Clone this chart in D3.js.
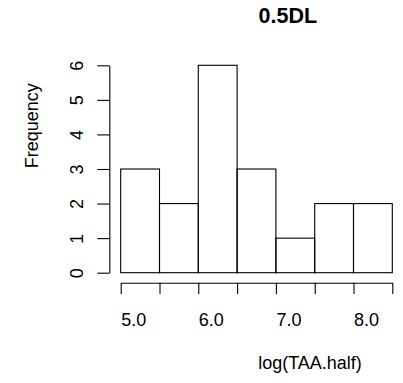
<!DOCTYPE html>
<html>
<head>
<meta charset="utf-8">
<script src="https://cdn.jsdelivr.net/npm/d3@7"></script>
<style>
body { margin: 0; background: #fff; }
svg text { font-family: "Liberation Sans", Arial, sans-serif; fill: #000; }
</style>
</head>
<body>
<div id="chart"></div>
<script>
// histogram data
var binEdges = [5.0, 5.5, 6.0, 6.5, 7.0, 7.5, 8.0, 8.5];
var counts = [3, 2, 6, 3, 1, 2, 2];
var yTicks = [0, 1, 2, 3, 4, 5, 6];
var xTicks = [5.0, 5.5, 6.0, 6.5, 7.0, 7.5, 8.0, 8.5];
var xLabels = ["5.0", "", "6.0", "", "7.0", "", "8.0", ""];

var width = 403, height = 383;
var lw = 1.1;

var svg = d3.select("#chart").append("svg")
  .attr("width", width)
  .attr("height", height);

var x = d3.scaleLinear().domain([5, 8.5]).range([120.7, 392.3]);
var y = d3.scaleLinear().domain([0, 6]).range([272.7, 65.3]);

var bins = counts.map(function(c, i) {
  return {x0: binEdges[i], x1: binEdges[i + 1], n: c};
});

svg.selectAll(".bar")
  .data(bins)
  .enter().append("rect")
  .attr("class", "bar")
  .attr("x", function(d) { return x(d.x0); })
  .attr("width", function(d) { return x(d.x1) - x(d.x0); })
  .attr("y", function(d) { return y(d.n); })
  .attr("height", function(d) { return y(0) - y(d.n); })
  .attr("fill", "none")
  .attr("stroke", "#000")
  .attr("stroke-width", lw);

// y axis
var yAxis = d3.axisLeft(y).tickValues(yTicks).tickSize(12).tickSizeOuter(0)
  .tickFormat(d3.format("d"));
var gy = svg.append("g")
  .attr("transform", "translate(109.3,0)")
  .call(yAxis);
gy.select(".domain").attr("stroke-width", lw);
gy.selectAll(".tick line").attr("stroke-width", lw);
gy.selectAll(".tick text")
  .attr("transform", "rotate(-90)")
  .attr("x", 0)
  .attr("y", -26)
  .attr("dy", 0)
  .attr("text-anchor", "middle")
  .style("font-size", "18px");

// x axis
var xAxis = d3.axisBottom(x).tickValues(xTicks).tickSize(11.3).tickSizeOuter(0)
  .tickFormat(function(d, i) { return xLabels[i]; });
var gx = svg.append("g")
  .attr("transform", "translate(0,282.7)")
  .call(xAxis);
gx.select(".domain").attr("stroke-width", lw);
gx.selectAll(".tick line").attr("stroke-width", lw);
gx.selectAll(".tick text")
  .attr("y", 43)
  .attr("dy", 0)
  .attr("text-anchor", "start")
  .style("font-size", "18px");

// title and axis titles
svg.append("text")
  .attr("x", 287.8)
  .attr("y", 22.7)
  .attr("text-anchor", "middle")
  .style("font-size", "21.5px")
  .style("font-weight", "bold")
  .text("0.5DL");

svg.append("text")
  .attr("x", 310)
  .attr("y", 369)
  .attr("text-anchor", "middle")
  .style("font-size", "18px")
  .text("log(TAA.half)");

svg.append("text")
  .attr("transform", "translate(38,125.8) rotate(-90)")
  .attr("text-anchor", "middle")
  .style("font-size", "18px")
  .text("Frequency");
</script>
</body>
</html>
